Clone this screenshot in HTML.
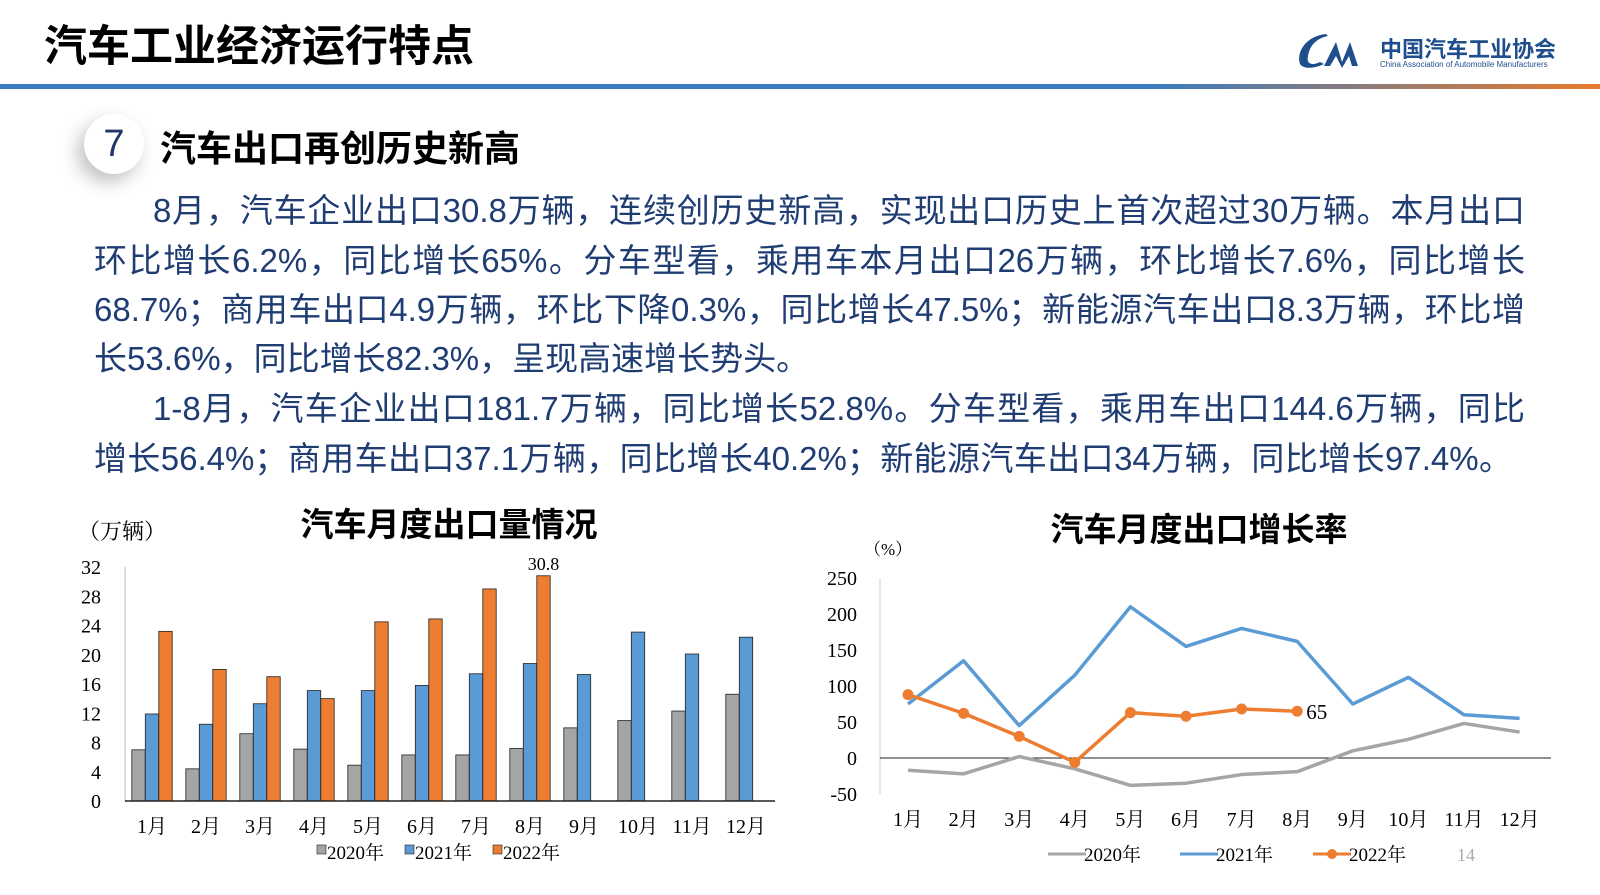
<!DOCTYPE html>
<html><head><meta charset="utf-8">
<style>
body{margin:0;width:1600px;height:895px;overflow:hidden;background:#fff;font-family:"Liberation Sans","Noto Sans CJK SC",sans-serif;position:relative}
.abs{position:absolute}
#title{left:44px;top:12px;font-size:43px;font-weight:bold;color:#000;letter-spacing:0px}
#hline{left:0;top:84px;width:1600px;height:5px;background:linear-gradient(90deg,#3a7cc0 0%,#3a7cc0 72%,#e87a2a 100%)}
#badge{left:84px;top:114px;width:60px;height:60px;border-radius:50%;background:#fff;box-shadow:-6px 8px 18px rgba(0,0,0,0.25);font-size:38px;color:#203864;text-align:center;line-height:60px}
#sub{left:160px;top:120px;font-size:36px;font-weight:bold;color:#000}
.ln{position:absolute;left:94px;width:1431px;font-size:33px;color:#1f3c73;text-align:justify;text-align-last:justify;white-space:nowrap;line-height:40px}
.ln.last{text-align-last:left}
</style></head><body>
<div class="abs" id="title">汽车工业经济运行特点</div>
<div class="abs" style="left:1296px;top:30px;width:300px;height:42px">
 <svg width="80" height="42" style="position:absolute;left:0;top:0"><path d="M30 4 C10 6 0 22 4 34 C8 40 20 38 28 34 L24 32 C16 36 10 34 12 26 C14 14 22 8 32 6Z" fill="#1f4e8c"/><path d="M28 36 L40 12 L46 32 L54 12 L62 36 L56 36 L53 26 L46 38 L40 26 L34 36Z" fill="#1f4e8c"/></svg>
 <div style="position:absolute;left:84px;top:2px;font-size:22px;font-weight:bold;color:#1f4e8c;white-space:nowrap">中国汽车工业协会</div>
 <div style="position:absolute;left:84px;top:30px;font-size:8px;color:#1f4e8c;white-space:nowrap">China Association of Automobile Manufacturers</div>
</div>
<div class="abs" id="hline"></div>
<div class="abs" id="badge">7</div>
<div class="abs" id="sub">汽车出口再创历史新高</div>

<div>
<div class="ln" style="top:191px;left:153px;width:1372px">8月，汽车企业出口30.8万辆，连续创历史新高，实现出口历史上首次超过30万辆。本月出口</div>
<div class="ln" style="top:241px">环比增长6.2%，同比增长65%。分车型看，乘用车本月出口26万辆，环比增长7.6%，同比增长</div>
<div class="ln" style="top:290px">68.7%；商用车出口4.9万辆，环比下降0.3%，同比增长47.5%；新能源汽车出口8.3万辆，环比增</div>
<div class="ln last" style="top:339px">长53.6%，同比增长82.3%，呈现高速增长势头。</div>
<div class="ln" style="top:389px;left:153px;width:1372px">1-8月，汽车企业出口181.7万辆，同比增长52.8%。分车型看，乘用车出口144.6万辆，同比</div>
<div class="ln" style="top:439px;width:1418px">增长56.4%；商用车出口37.1万辆，同比增长40.2%；新能源汽车出口34万辆，同比增长97.4%。</div>
</div>

<svg id="bar" class="abs" style="left:0;top:490px" width="800" height="405"></svg>
<svg id="line" class="abs" style="left:800px;top:490px" width="800" height="405"></svg>

<script>
const months=["1月","2月","3月","4月","5月","6月","7月","8月","9月","10月","11月","12月"];
const exp2020=[7.0,4.4,9.2,7.1,4.9,6.3,6.3,7.2,10.0,11.0,12.3,14.6];
const exp2021=[11.9,10.5,13.3,15.1,15.1,15.8,17.4,18.8,17.3,23.1,20.1,22.4];
const exp2022=[23.2,18.0,17.0,14.0,24.5,24.9,29.0,30.8];
const barTicks=[0,4,8,12,16,20,24,28,32];
const gr2020=[-17,-22,2,-15,-38,-35,-23,-19,10,26,48,36];
const gr2021=[75,135,45,115,210,155,180,162,75,112,60,55];
const gr2022=[88,62,30,-6,63,58,68,65];
const lineTicks=[-50,0,50,100,150,200,250];
const NS="http://www.w3.org/2000/svg";
function mk(svg,tag,attrs,text){const e=document.createElementNS(NS,tag);for(const k in attrs)e.setAttribute(k,attrs[k]);if(text!==undefined)e.textContent=text;svg.appendChild(e);return e;}
const FS='"Liberation Serif","Noto Serif CJK SC",serif';
(function(){
 const s=document.getElementById('bar');
 const y=v=>311-v*(234/32); const x0=125, step=54;
 const cx=i=>152+step*i;
 let t=mk(s,'text',{x:78,y:49,'font-size':22,'font-family':FS},'（万辆）');
 t=mk(s,'text',{x:449,y:46,'font-size':33,'font-weight':'bold','text-anchor':'middle','font-family':'"Liberation Sans","Noto Sans CJK SC",sans-serif'},'汽车月度出口量情况');
 barTicks.forEach(v=>{const e=mk(s,'text',{x:101,y:y(v)+7,'font-size':20,'text-anchor':'end','font-family':FS},v);});
 let a=mk(s,'line',{x1:x0,y1:y(32),x2:x0,y2:y(0),stroke:'#bbb'});
 const series=[[exp2020,'#a5a5a5',-13.5],[exp2021,'#5b9bd5',0],[exp2022,'#ed7d31',13.5]];
 months.forEach((m,i)=>{
  series.forEach(([arr,c,off],k)=>{ if(arr[i]===undefined)return;
   const r=mk(s,'rect',{x:cx(i)+off-6.7,y:y(arr[i]),width:13.4,height:y(0)-y(arr[i]),fill:c,stroke:'#222','stroke-width':0.8});
   });
  const e=mk(s,'text',{x:cx(i),y:343,'font-size':20,'text-anchor':'middle','font-family':FS},m);
 });
 a=mk(s,'line',{x1:x0,y1:y(0),x2:775,y2:y(0),stroke:'#222','stroke-width':1.5});
 t=mk(s,'text',{x:cx(7)+13.5,y:y(30.8)-6,'font-size':18,'text-anchor':'middle','font-family':FS},'30.8');
 [['2020年','#a5a5a5',317],['2021年','#5b9bd5',405],['2022年','#ed7d31',493]].forEach(([n,c,lx])=>{
  const g=mk(s,'g',{});
  mk(g,'rect',{x:lx,y:355,width:9,height:9,fill:c,stroke:'#222','stroke-width':0.6});
  mk(g,'text',{x:lx+10,y:369,'font-size':19,'font-family':FS},n);
 });
})();
(function(){
 const s=document.getElementById('line');
 const y=v=>268-v*(36/50); const x=i=>108+55.6*i; const ax0=80;
 let t=mk(s,'text',{x:64,y:65,'font-size':17,'font-family':FS},'（%）');
 t=mk(s,'text',{x:399,y:51,'font-size':33,'font-weight':'bold','text-anchor':'middle','font-family':'"Liberation Sans","Noto Sans CJK SC",sans-serif'},'汽车月度出口增长率');
 lineTicks.forEach(v=>{const e=mk(s,'text',{x:57,y:y(v)+7,'font-size':20,'text-anchor':'end','font-family':FS},v);});
 let a=mk(s,'line',{x1:ax0,y1:y(250),x2:ax0,y2:y(-50),stroke:'#ccc'});
 a=mk(s,'line',{x1:ax0,y1:y(0),x2:751,y2:y(0),stroke:'#222','stroke-width':1});
 months.forEach((m,i)=>{const e=mk(s,'text',{x:x(i),y:336,'font-size':20,'text-anchor':'middle','font-family':FS},m);});
 [[gr2020,'#a5a5a5','line-2020'],[gr2021,'#5b9bd5','line-2021'],[gr2022,'#ed7d31','line-2022']].forEach(([arr,c,n])=>{
  const p=mk(s,'polyline',{points:arr.map((v,i)=>x(i)+','+y(v)).join(' '),fill:'none',stroke:c,'stroke-width':3.5,'stroke-linejoin':'round'});
  
 });
 gr2022.forEach((v,i)=>{const c=mk(s,'circle',{cx:x(i),cy:y(v),r:5.5,fill:'#ed7d31'});});
 t=mk(s,'text',{x:x(7)+9,y:y(65)+8,'font-size':21,'font-family':FS},'65');
 [['2020年','#a5a5a5',248,false],['2021年','#5b9bd5',380,false],['2022年','#ed7d31',513,true]].forEach(([n,c,lx,dot])=>{
  const g=mk(s,'g',{});
  mk(g,'line',{x1:lx,y1:364,x2:lx+38,y2:364,stroke:c,'stroke-width':3});
  if(dot)mk(g,'circle',{cx:lx+19,cy:364,r:5,fill:c});
  mk(g,'text',{x:lx+36,y:371,'font-size':19,'font-family':FS},n);
 });
 t=mk(s,'text',{x:657,y:371,'font-size':18,fill:'#aaa','font-family':FS},'14');
})();
</script>
</body></html>
